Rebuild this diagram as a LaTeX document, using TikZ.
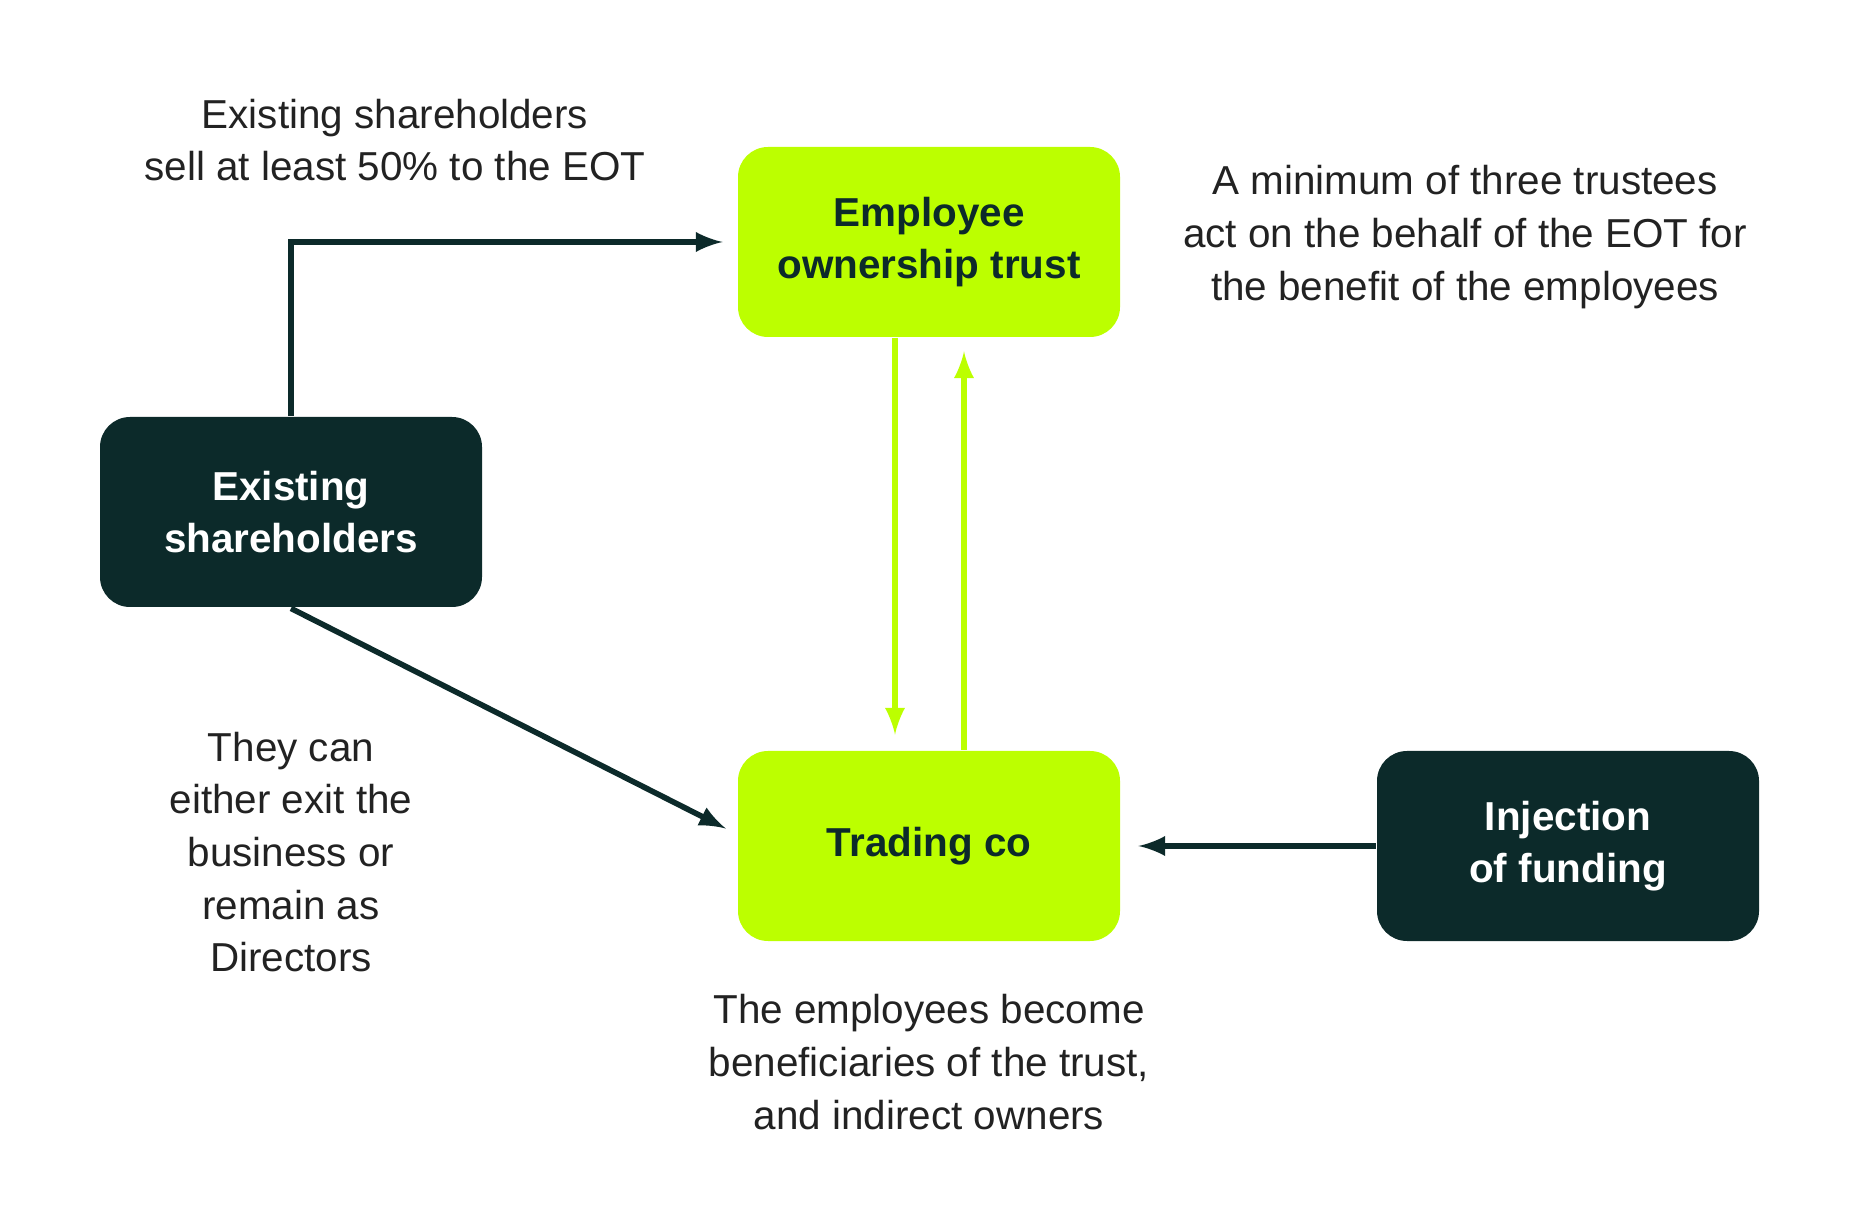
\documentclass[tikz,border=0pt]{standalone}
\usepackage{fontspec}
\setmainfont{Liberation Sans}
\usetikzlibrary{arrows,positioning}
\definecolor{lime}{HTML}{BCFF00}
\definecolor{dark}{HTML}{0C2A2A}
\definecolor{txt}{HTML}{222222}

\begin{document}
\begin{tikzpicture}[>=latex,thick,
  box/.style={rounded corners=0.3cm,minimum width=3.82cm,minimum height=1.9cm,
    align=center,font=\fontsize{11.5}{15}\selectfont\bfseries},
  gbox/.style={box,fill=lime,text=dark},
  dbox/.style={box,fill=dark,text=white},
  note/.style={align=center,text=txt,font=\fontsize{11.5}{15}\selectfont},
  darr/.style={->,draw=dark,line width=1.6pt},
  garr/.style={->,draw=lime,line width=1.6pt}]

\useasboundingbox (0,0) rectangle (18.51,12.21);

\node[gbox] (trust) at (9.29,9.79) {Employee\\ownership trust};
\node[dbox] (holders) at (2.91,7.09) {Existing\\shareholders};
\node[gbox] (trading) at (9.29,3.75) {Trading co};
\node[dbox] (funding) at (15.68,3.75) {Injection\\of funding};

\node[note] (n1) at (3.95,10.81) {Existing shareholders\\sell at least 50\% to the EOT};
\node[note] (n2) at (14.65,9.84) {A minimum of three trustees\\act on the behalf of the EOT for\\the benefit of the employees};
\node[note] (n3) at (2.91,3.69) {They can\\either exit the\\business or\\remain as\\Directors};
\node[note] (n4) at (9.29,1.59) {The employees become\\beneficiaries of the trust,\\and indirect owners};

% arrows
\draw[darr] (holders.north) |- ([xshift=-0.14cm]trust.west);
\draw[darr,shorten >=0.12cm] (holders.south) -- ([yshift=0.12cm]trading.west);
\draw[darr,shorten >=0.17cm] (funding.west) -- (trading.east);
\draw[garr,shorten >=0.15cm] ([xshift=-0.34cm]trust.south) -- ([xshift=-0.34cm]trading.north);
\draw[garr,shorten >=0.13cm] ([xshift=0.35cm]trading.north) -- ([xshift=0.35cm]trust.south);

\end{tikzpicture}
\end{document}
